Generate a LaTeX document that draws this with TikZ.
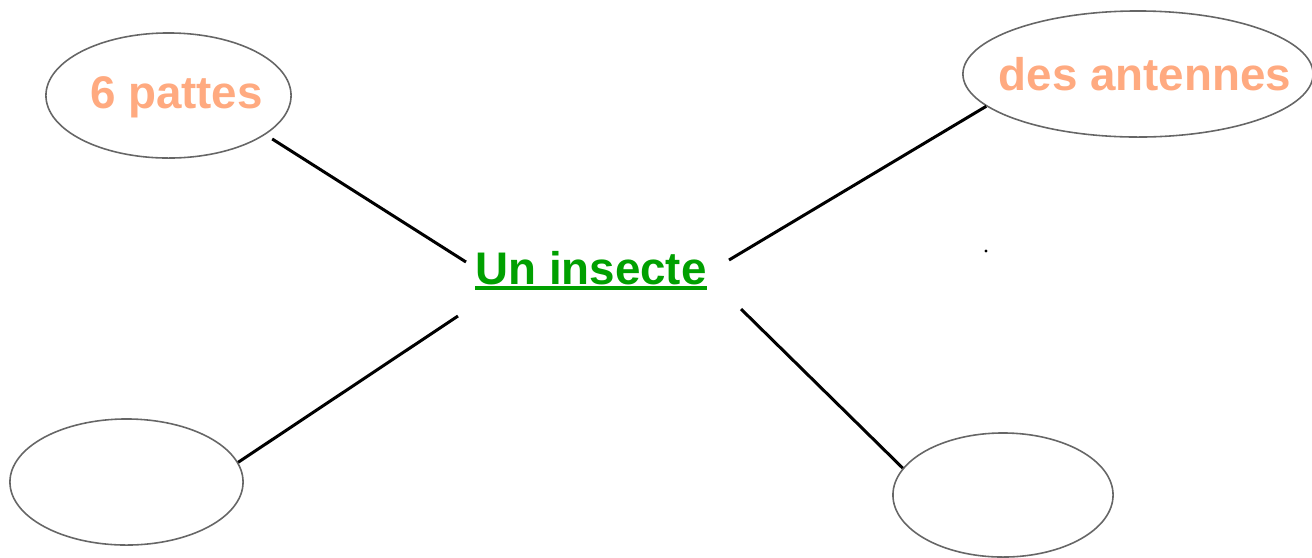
\documentclass[tikz,border=0pt]{standalone}
\usepackage{fontspec}
\setmainfont{Liberation Sans}
\usetikzlibrary{shapes.geometric}
\definecolor{saumon}{HTML}{FFAA80}
\definecolor{vert}{HTML}{00A000}
\definecolor{bord}{HTML}{666666}
\newcommand{\souligne}[1]{\setbox0\hbox{#1}\rlap{\rule[-1.7pt]{\wd0}{1.1pt}}\box0}

\begin{document}
\begin{tikzpicture}[x=0.01cm, y=-0.01cm,
    bulle/.style={ellipse, draw=bord, line width=0.45pt, inner sep=0pt},
    mot/.style={anchor=base, inner sep=0pt, font=\fontsize{13pt}{15pt}\selectfont\bfseries}]
            \useasboundingbox (0,0) rectangle (1312,557);

            \node[bulle, minimum width=2.45cm, minimum height=1.25cm] (pattes) at (168.5,95.5) {};
            \node[bulle, minimum width=3.5cm, minimum height=1.26cm] (antennes) at (1138,74) {};
            \node[bulle, minimum width=2.33cm, minimum height=1.26cm] (gauche) at (126.5,482) {};
            \node[bulle, minimum width=2.2cm, minimum height=1.24cm] (droite) at (1003,495) {};

            \node[mot, text=saumon] (pattestxt) at (176.5,108) {6 pattes};
            \node[mot, text=saumon] (antennestxt) at (1145,90) {des antennes};
            \node[mot, text=vert] (insecte) at (591,284) {\souligne{Un insecte}};

            \node[circle, fill, inner sep=0pt, minimum size=0.9pt] (point) at (986,251) {};

            \coordinate (c1) at (466,262);
            \coordinate (c2) at (729,260);
            \coordinate (c3) at (458,316);
            \coordinate (c4) at (741,309);

            \draw[line width=0.85pt, shorten <=0.08cm] (pattes.-22) -- (c1);
            \draw[line width=0.85pt] (c2) -- (antennes.-168);
            \draw[line width=0.85pt] (c3) -- (gauche.10);
            \draw[line width=0.85pt] (c4) -- (droite.165);
        \end{tikzpicture}
\end{document}
